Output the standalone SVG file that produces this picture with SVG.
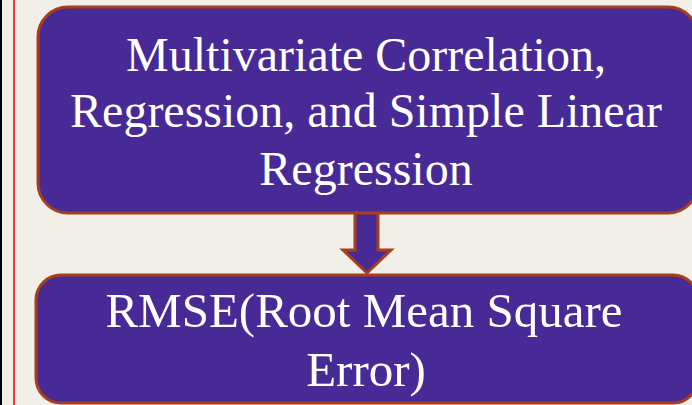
<svg xmlns="http://www.w3.org/2000/svg" width="692" height="405" viewBox="0 0 692 405">
<style>
.box{fill:#472A96;stroke:#A63F1C;stroke-width:3}
.t{font-family:"Liberation Serif","Times New Roman",serif;font-size:48px;fill:#FFFFFF;text-anchor:middle}
</style>
<rect x="0" y="0" width="692" height="405" fill="#F2EFE8"/>
<rect x="0" y="0" width="2" height="405" fill="#000000"/>
<line x1="14" y1="0" x2="14" y2="405" stroke="#FF0000" stroke-width="1.5"/>
<g id="node1">
<rect class="box" x="38" y="7" width="660" height="206" rx="30" ry="30"/>
<text class="t" x="366" y="71">Multivariate Correlation,</text>
<text class="t" x="366" y="127">Regression, and Simple Linear</text>
<text class="t" x="366" y="185">Regression</text>
</g>
<g id="connectors">
<path class="box" d="M355 213 L378 213 L378 250 L391 250 L367 273 L343 250 L355 250 Z"/>
</g>
<g id="node2">
<rect class="box" x="36" y="275" width="662" height="128" rx="25" ry="25"/>
<text class="t" x="364" y="327" style="font-size:49px">RMSE(Root Mean Square</text>
<text class="t" x="366" y="386" style="font-size:49px">Error)</text>
</g>
</svg>
